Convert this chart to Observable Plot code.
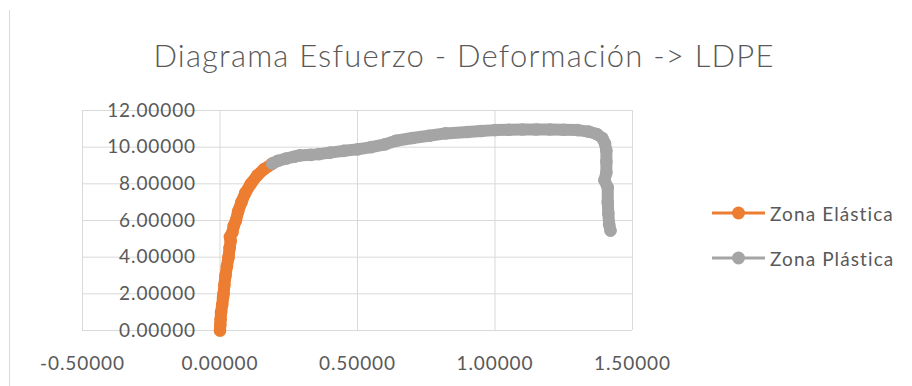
<!DOCTYPE html>
<html>
<head>
<meta charset="utf-8">
<script src="https://cdn.jsdelivr.net/npm/d3@7"></script>
<script src="https://cdn.jsdelivr.net/npm/@observablehq/plot@0.6"></script>
<style>
  body { margin: 0; background: #fff; }
  #wrap { position: relative; width: 912px; height: 386px; overflow: hidden; font-family: Lato, "Open Sans", sans-serif; }
  #border { position: absolute; left: 9px; top: 10px; width: 1px; height: 376px; background: #d9d9d9; }
  #title { position: absolute; left: 0; top: 0; width: 912px; height: 90px; text-align: center; box-sizing: border-box; padding-left: 16px;
           font-family: Lato, sans-serif; font-weight: 300; font-size: 31px; letter-spacing: 1.2px; color: #595959; line-height: 90px; padding-top: 10px; }
  #chart { position: absolute; left: 0; top: 90px; }
  #legend { position: absolute; left: 710px; top: 0; font-family: Lato, sans-serif; font-size: 19px; letter-spacing: 1.1px; color: #595959; }
  .item { position: absolute; left: 0; display: flex; align-items: center; height: 24px; white-space: nowrap; }
  .item span { margin-left: 4px; }
</style>
</head>
<body>
<div id="wrap">
  <div id="border"></div>
  <div id="title">Diagrama Esfuerzo - Deformación -&gt; LDPE</div>
  <div id="chart"></div>
  <div id="legend"></div>
</div>
<script>
// Series names and colours
const seriesNames = ["Zona Elástica", "Zona Plástica"];
const seriesColors = ["#ED7D31", "#A5A5A5"];

// Zona Elástica (deformación, esfuerzo)
const elasticX = [0.000, 0.001, 0.002, 0.004, 0.008, 0.011, 0.013, 0.016, 0.020, 0.025, 0.031, 0.035, 0.039, 0.036, 0.045, 0.050, 0.058, 0.066, 0.078, 0.092, 0.112, 0.135, 0.160, 0.190];
const elasticY = [0.00, 0.30, 0.60, 1.00, 1.40, 1.80, 2.00, 2.50, 3.00, 3.50, 4.00, 4.50, 4.90, 5.10, 5.35, 5.70, 6.00, 6.50, 7.00, 7.50, 8.00, 8.45, 8.80, 9.10];

// Zona Plástica (deformación, esfuerzo)
const plasticX = [0.190, 0.210, 0.240, 0.270, 0.290, 0.330, 0.360, 0.400, 0.450, 0.500, 0.550, 0.600, 0.640, 0.700, 0.760, 0.820, 0.900, 0.950, 1.000, 1.050, 1.100, 1.150, 1.200, 1.250, 1.300, 1.340, 1.370, 1.390, 1.400, 1.405, 1.405, 1.405, 1.398, 1.410, 1.410, 1.412, 1.415, 1.420];
const plasticY = [9.10, 9.25, 9.38, 9.48, 9.55, 9.58, 9.62, 9.70, 9.80, 9.88, 10.00, 10.15, 10.35, 10.50, 10.62, 10.75, 10.83, 10.88, 10.93, 10.95, 10.96, 10.96, 10.96, 10.95, 10.93, 10.85, 10.72, 10.50, 10.20, 9.80, 9.20, 8.60, 8.20, 7.80, 7.00, 6.40, 5.80, 5.45];

// Axis ticks
const xTicks = [-0.5, 0, 0.5, 1.0, 1.5];
const yTicks = [0, 2, 4, 6, 8, 10, 12];

const elastic = elasticX.map((x, i) => ({x, y: elasticY[i]}));
const plastic = plasticX.map((x, i) => ({x, y: plasticY[i]}));
const fmt = d3.formatLocale({decimal: ".", thousands: ",", grouping: [3], currency: ["", ""], minus: "-"}).format(".5f");

const plot = Plot.plot({
  width: 912,
  height: 296,
  marginTop: 20,
  marginBottom: 56,
  marginLeft: 82,
  marginRight: 280,
  x: {domain: [-0.5, 1.5], axis: null},
  y: {domain: [0, 12], axis: null},
  style: {fontFamily: "Lato, sans-serif", background: "transparent", letterSpacing: "0.9px"},
  marks: [
    Plot.ruleY(yTicks, {stroke: "#d9d9d9", strokeWidth: 1}),
    Plot.ruleX(xTicks, {stroke: "#d9d9d9", strokeWidth: 1}),
    Plot.text(yTicks, {x: () => 0, y: d => d, text: d => fmt(d), textAnchor: "end", dx: -24, fontSize: 19, fill: "#595959", lineAnchor: "middle"}),
    Plot.text(xTicks, {x: d => d, y: () => 0, text: d => fmt(d), dy: 33, fontSize: 19, fill: "#595959", lineAnchor: "middle"}),
    Plot.line(elastic, {x: "x", y: "y", stroke: seriesColors[0], strokeWidth: 12, strokeLinecap: "round", strokeLinejoin: "round", curve: "linear"}),
    Plot.line(plastic, {x: "x", y: "y", stroke: seriesColors[1], strokeWidth: 12, strokeLinecap: "round", strokeLinejoin: "round", curve: "linear"}),
    Plot.dot(elastic, {x: "x", y: "y", r: 6.3, fill: seriesColors[0]}),
    Plot.dot(plastic, {x: "x", y: "y", r: 6.3, fill: seriesColors[1]})
  ]
});
document.getElementById("chart").appendChild(plot);

const legend = document.getElementById("legend");
const legendCenters = [213, 258];
seriesNames.forEach((name, i) => {
  const div = document.createElement("div");
  div.className = "item";
  div.style.top = (legendCenters[i] - 12) + "px";
  div.innerHTML = `<svg width="56" height="16"><line x1="2" x2="55" y1="8" y2="8" stroke="${seriesColors[i]}" stroke-width="3"/><circle cx="28.5" cy="8" r="6.5" fill="${seriesColors[i]}"/></svg><span>${name}</span>`;
  legend.appendChild(div);
});
</script>
</body>
</html>
